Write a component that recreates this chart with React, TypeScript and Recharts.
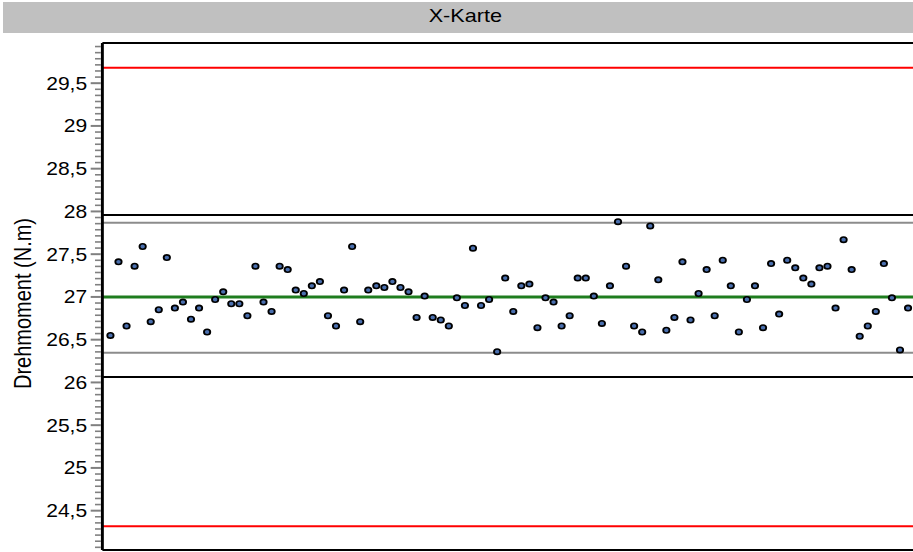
import { ScatterChart, Scatter, XAxis, YAxis, ReferenceLine } from "recharts"

const title = "X-Karte"
const yLabel = "Drehmoment (N.m)"

// sample means, one per subgroup
const values = [
  26.55, 27.41, 26.66, 27.36, 27.59, 26.71, 26.85, 27.46, 26.87, 26.94,
  26.74, 26.87, 26.59, 26.97, 27.06, 26.92, 26.92, 26.78, 27.36, 26.94,
  26.83, 27.36, 27.32, 27.08, 27.04, 27.13, 27.18, 26.78, 26.66, 27.08,
  27.59, 26.71, 27.08, 27.13, 27.11, 27.18, 27.11, 27.06, 26.76, 27.01,
  26.76, 26.73, 26.66, 26.99, 26.9, 27.57, 26.9, 26.97, 26.36, 27.22,
  26.83, 27.13, 27.15, 26.64, 26.99, 26.94, 26.66, 26.78, 27.22, 27.22,
  27.01, 26.69, 27.13, 27.88, 27.36, 26.66, 26.59, 27.83, 27.2, 26.61,
  26.76, 27.41, 26.73, 27.04, 27.32, 26.78, 27.43, 27.13, 26.59, 26.97,
  27.13, 26.64, 27.39, 26.8, 27.43, 27.34, 27.22, 27.15, 27.34, 27.36,
  26.87, 27.67, 27.32, 26.54, 26.66, 26.83, 27.39, 26.99, 26.38, 26.87,
]

const centerLine = 27.0
const controlLimits = [24.317, 29.68]
const outerLimits = [26.062, 27.958]
const innerLimits = [26.346, 27.868]

const yDomain = [24.04, 29.97]
const majorTicks = [24.5, 25, 25.5, 26, 26.5, 27, 27.5, 28, 28.5, 29, 29.5]
const minorPerHalf = 7

const data = values.map((v, i) => ({ x: i + 1, y: v }))

const allTicks: number[] = []
for (let k = 0; k <= 12 * minorPerHalf; k++) {
  const v = 24 + (k * 0.5) / minorPerHalf
  if (v > yDomain[0] && v < yDomain[1]) allTicks.push(v)
}

const font = '"Liberation Sans", Arial, sans-serif'

function AxisTick(props: any) {
  const { x, y, payload } = props
  const v = payload.value as number
  const isMajor = majorTicks.some((m) => Math.abs(m - v) < 1e-6)
  return (
    <g>
      <line
        x1={x - (isMajor ? 10 : 6.3)}
        x2={x - 1.3}
        y1={y}
        y2={y}
        stroke="#808080"
        strokeWidth={isMajor ? 2 : 1.6}
      />
      {isMajor && (
        <text
          x={x - 13}
          y={y}
          textAnchor="end"
          dominantBaseline="central"
          fontSize={18}
          fontFamily={font}
          fill="#000"
        >
          {String(v).replace(".", ",")}
        </text>
      )}
    </g>
  )
}

function YTitle(props: any) {
  const vb = props.viewBox || { x: 0, y: 43, width: 88, height: 507 }
  const cx = 19.8
  const cy = vb.y + vb.height / 2 + 7
  return (
    <text
      x={cx}
      y={cy}
      transform={`rotate(-90 ${cx} ${cy})`}
      textAnchor="middle"
      dominantBaseline="central"
      fontSize={20}
      fontFamily={font}
      fill="#000"
    >
      {yLabel}
    </text>
  )
}

export default function App() {
  return (
    <div
      style={{
        position: "absolute",
        left: 0,
        top: 0,
        width: 913,
        height: 552,
        overflow: "hidden",
        background: "#fff",
        fontFamily: font,
      }}
    >
      {/* chart was drawn narrower and stretched sideways */}
      <div
        style={{
          position: "absolute",
          left: 0,
          top: 0,
          width: 790,
          height: 552,
          transform: "scaleX(1.17)",
          transformOrigin: "0 0",
        }}
      >
        <ScatterChart width={790} height={552} margin={{ top: 42, right: 7, bottom: 1, left: 0 }}>
          <XAxis
            dataKey="x"
            type="number"
            domain={[0, 101]}
            allowDataOverflow
            tick={false}
            tickLine={false}
            height={1}
            axisLine={{ stroke: "#000", strokeWidth: 2 }}
          />
          <XAxis
            xAxisId="top"
            orientation="top"
            type="number"
            domain={[0, 101]}
            tick={false}
            tickLine={false}
            height={1}
            axisLine={{ stroke: "#000", strokeWidth: 2 }}
          />
          <YAxis
            dataKey="y"
            type="number"
            domain={yDomain}
            allowDataOverflow
            width={87.5}
            ticks={allTicks}
            interval={0}
            tickSize={0}
            tickMargin={0}
            tickLine={false}
            tick={<AxisTick />}
            axisLine={{ stroke: "#000", strokeWidth: 2.5 }}
            label={<YTitle />}
          />
          {controlLimits.map((v) => (
            <ReferenceLine key={`c${v}`} y={v} stroke="#ff0000" strokeWidth={2} />
          ))}
          {outerLimits.map((v) => (
            <ReferenceLine key={`o${v}`} y={v} stroke="#000" strokeWidth={2} />
          ))}
          {innerLimits.map((v) => (
            <ReferenceLine key={`i${v}`} y={v} stroke="#8c8c8c" strokeWidth={2} />
          ))}
          <ReferenceLine y={centerLine} stroke="#1e7d1e" strokeWidth={3} />
          <Scatter
            data={data}
            isAnimationActive={false}
            shape={(p: any) => (
              <circle cx={p.cx} cy={p.cy} r={2.7} fill="#4a6fae" stroke="#000" strokeWidth={1.6} />
            )}
          />
        </ScatterChart>
      </div>
      <div
        style={{
          position: "absolute",
          left: 3,
          top: 2,
          width: 924,
          height: 31,
          background: "#c0c0c0",
          textAlign: "center",
          lineHeight: "28px",
          fontSize: 18.5,
          color: "#000",
        }}
      >
        <span style={{ display: "inline-block", transform: "scaleX(1.17)" }}>{title}</span>
      </div>
    </div>
  )
}
